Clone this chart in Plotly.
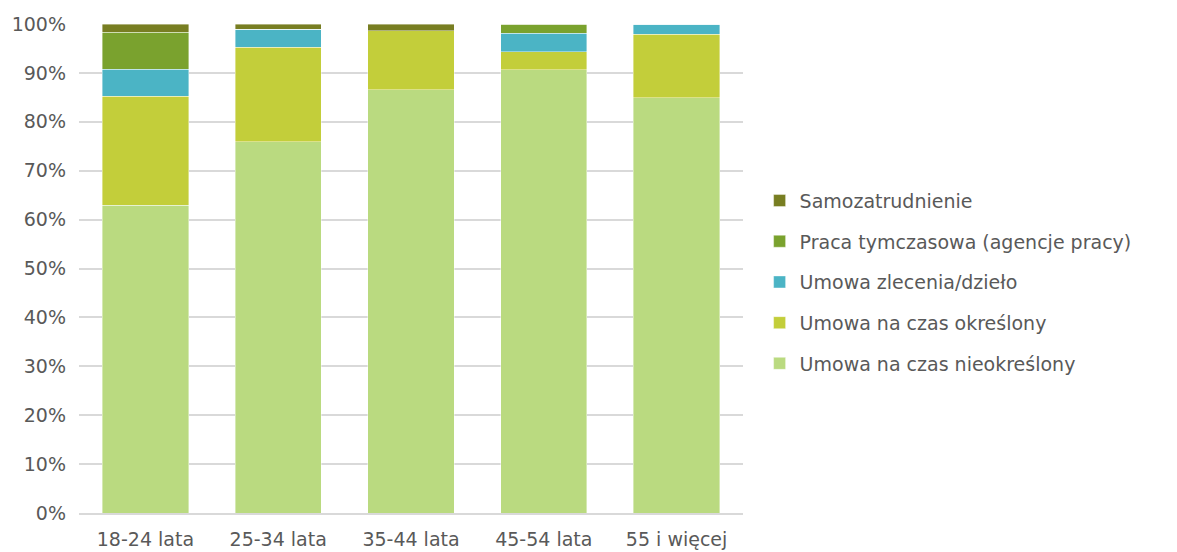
import plotly.graph_objects as go

categories = ["18-24 lata", "25-34 lata", "35-44 lata", "45-54 lata", "55 i więcej"]

nieokreslony = [62.9, 75.9, 86.6, 90.6, 84.9]
okreslony = [22.3, 19.3, 12.0, 3.7, 13.0]
zlecenie = [5.5, 3.7, 0.0, 3.8, 2.1]
tymczasowa = [7.6, 0.0, 0.0, 1.9, 0.0]
samozatrudnienie = [1.7, 1.1, 1.4, 0.0, 0.0]

series = [
    ("Umowa na czas nieokreślony", nieokreslony, "#BADA80"),
    ("Umowa na czas określony", okreslony, "#C3CE3A"),
    ("Umowa zlecenia/dzieło", zlecenie, "#4BB4C5"),
    ("Praca tymczasowa (agencje pracy)", tymczasowa, "#7AA22E"),
    ("Samozatrudnienie", samozatrudnienie, "#787E22"),
]

fig = go.Figure()
for i, (name, vals, color) in enumerate(series):
    fig.add_trace(go.Bar(
        x=categories, y=vals, name=name, legendgroup=str(i),
        legendrank=len(series) - i,
        marker=dict(color=color, line=dict(color="rgba(255,255,255,0.5)", width=0.8)),
    ))

font_family = "DejaVu Sans, sans-serif"
fig.update_layout(
    barmode="stack",
    bargap=0.35,
    width=1169, height=544,
    margin=dict(l=71, r=434, t=16, b=39),
    paper_bgcolor="white", plot_bgcolor="white",
    font=dict(family=font_family, size=19, color="#595959"),
    legend=dict(
        traceorder="grouped", tracegroupgap=13,
        x=1.025, xanchor="left", y=0.472, yanchor="middle",
        font=dict(size=19, color="#595959"),
        itemwidth=30,
    ),
    showlegend=True,
)
fig.update_yaxes(
    range=[0, 100], dtick=10, ticksuffix="%",
    showgrid=True, gridcolor="#D9D9D9", gridwidth=1.5,
    zeroline=False, showline=False, ticks="", ticklen=0,
    automargin=False, ticklabelstandoff=12,
    tickfont=dict(size=19, color="#595959"),
)
fig.update_xaxes(
    showline=True, linecolor="#D9D9D9", linewidth=1.5,
    ticks="", automargin=False, ticklabelstandoff=8,
    tickfont=dict(size=19, color="#595959"),
)

fig.write_html("out.html")
